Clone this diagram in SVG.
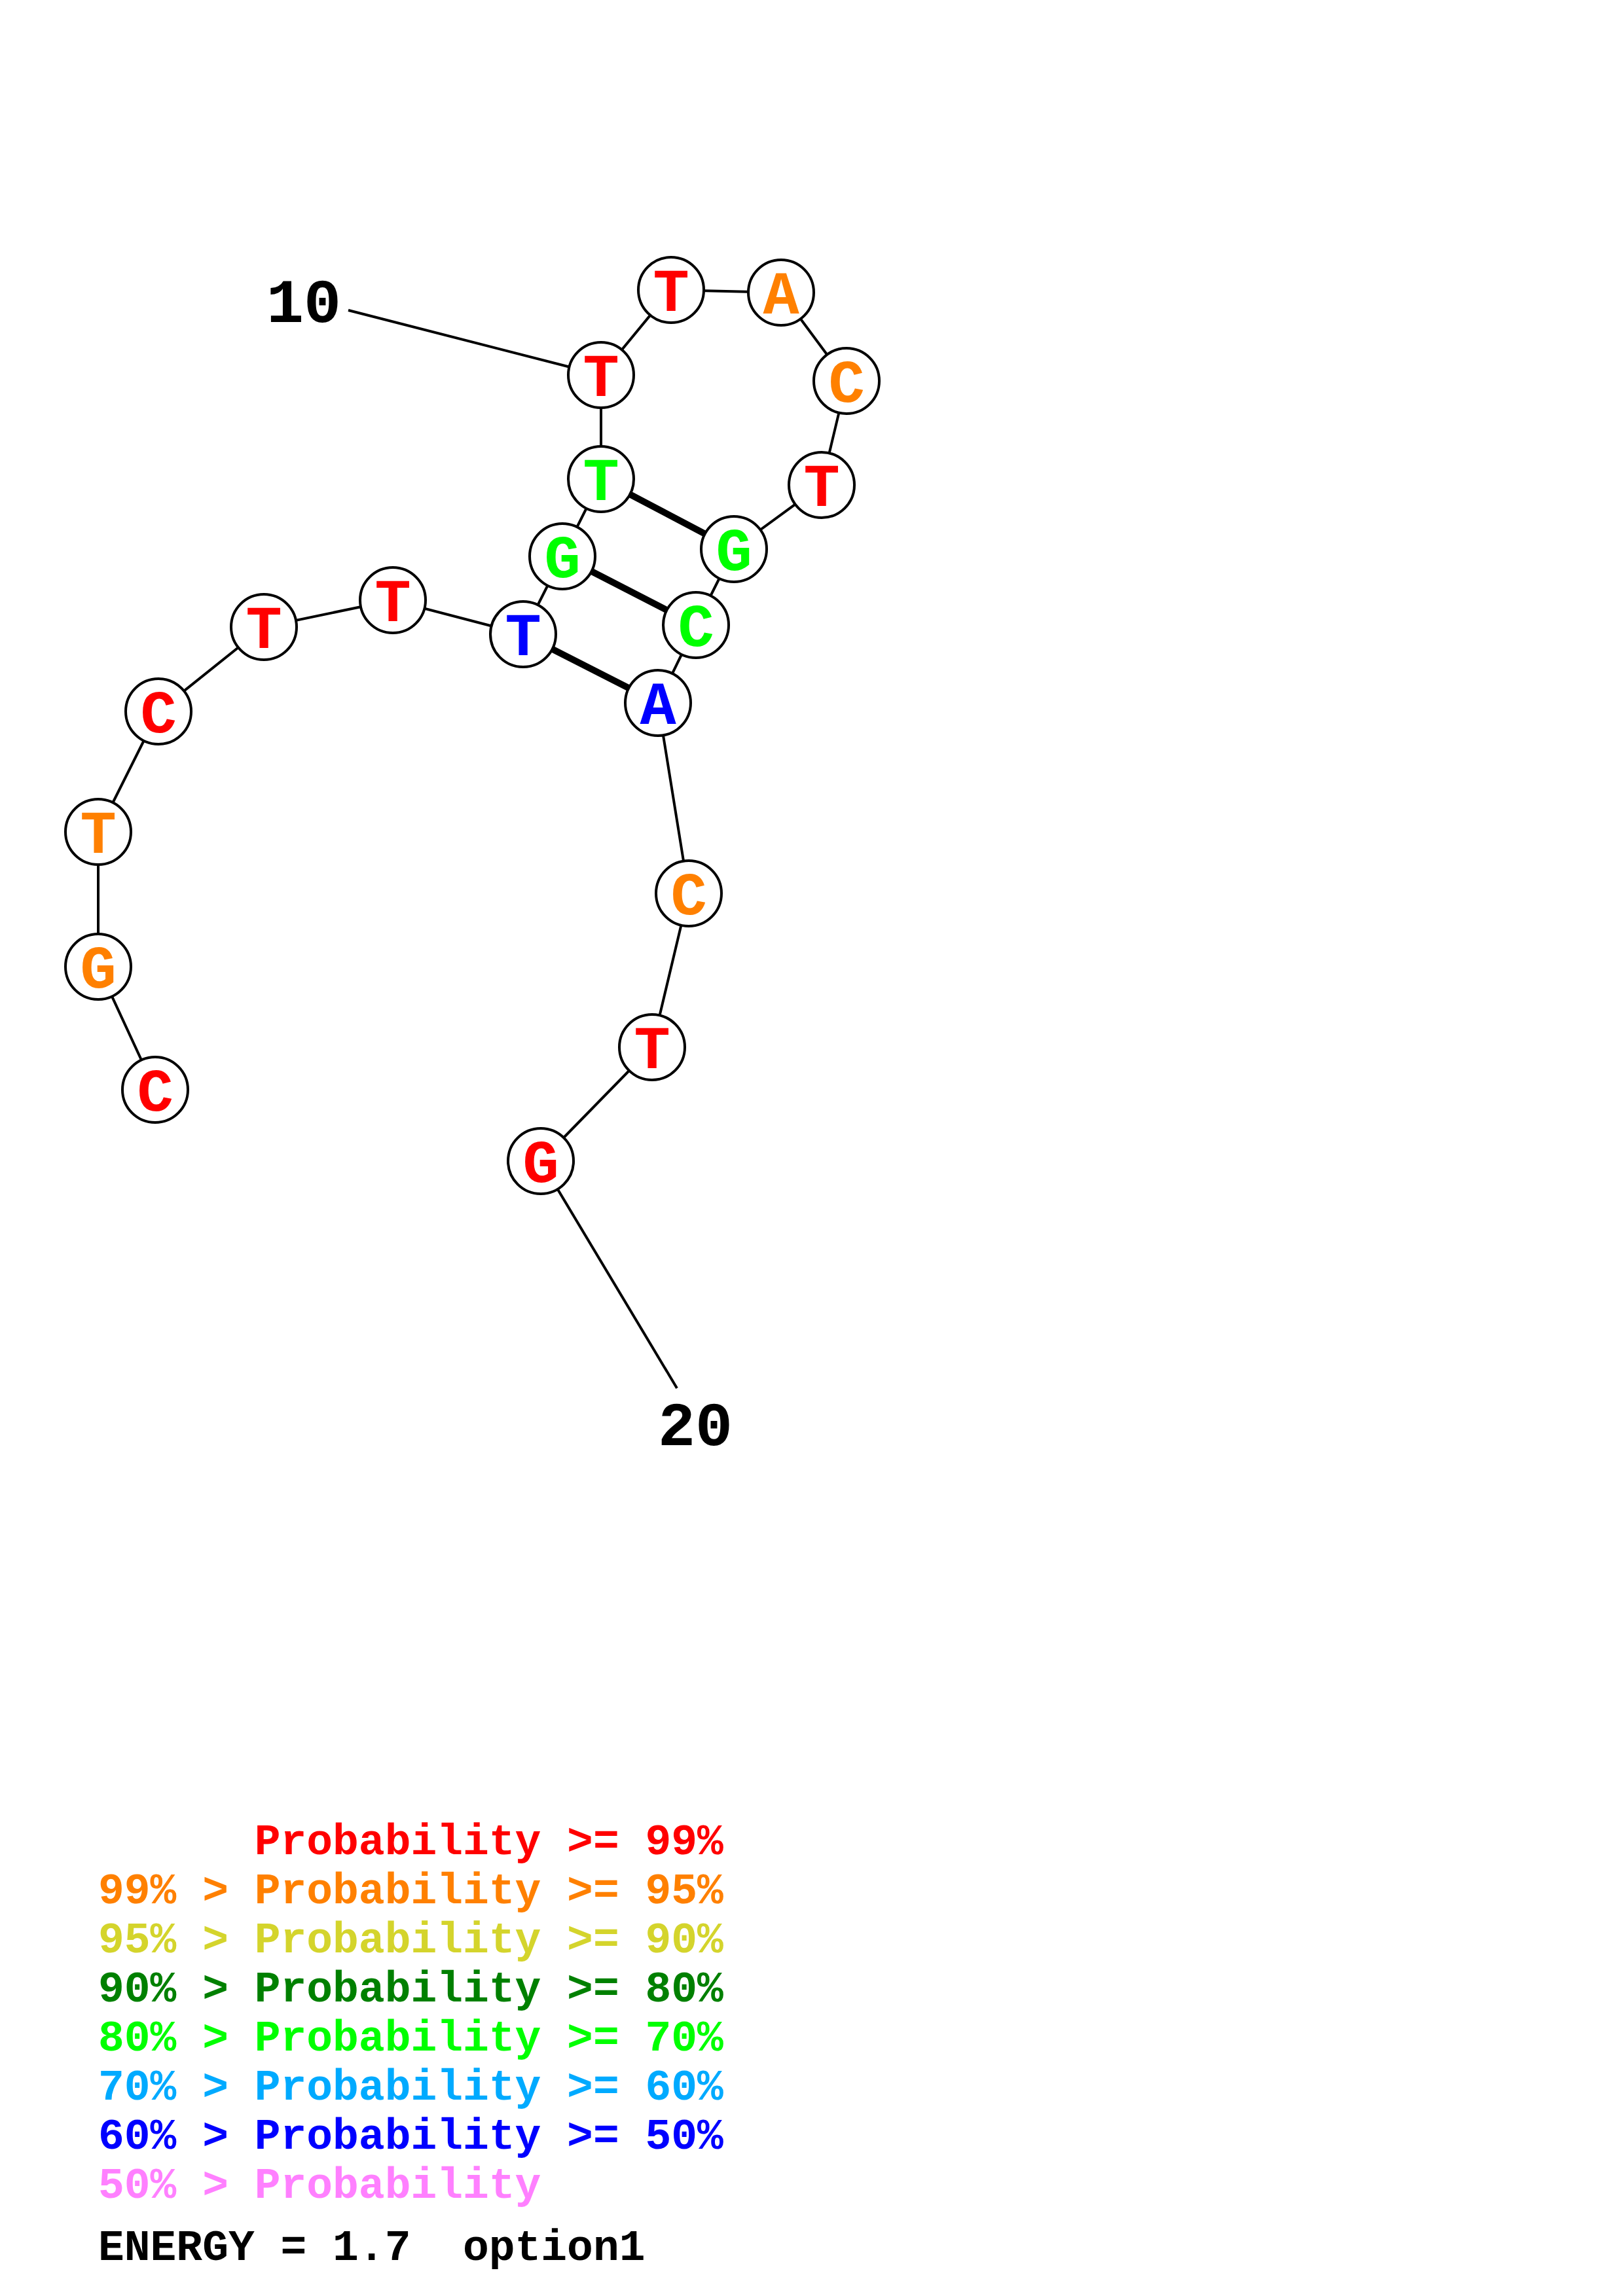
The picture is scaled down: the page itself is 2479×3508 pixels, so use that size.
<svg xmlns="http://www.w3.org/2000/svg" width="2479" height="3508" viewBox="0 0 2479 3508">
<style>
.bb{stroke:#000;stroke-width:4;fill:none}
.bp{stroke:#000;stroke-width:10;fill:none}
.nc{fill:#fff;stroke:#000;stroke-width:4}
.nt{font-family:"Liberation Mono","Courier New",monospace;font-weight:bold;font-size:92px;text-anchor:middle}
.lab{font-family:"Liberation Mono","Courier New",monospace;font-weight:bold;font-size:95px;fill:#000}
.lg{font-family:"Liberation Mono","Courier New",monospace;font-weight:bold;font-size:66.3px;white-space:pre}
.r{fill:#FF0000}.o{fill:#FF8000}.y{fill:#D4D42C}.dg{fill:#008000}.g{fill:#00FF00}.sb{fill:#00AAFF}.b{fill:#0000FF}.p{fill:#FF80FF}.k{fill:#000}
</style>
<rect width="2479" height="3508" fill="#fff"/>
<g id="connectors">
<polyline class="bb" points="237,1665 150,1477 150,1271 242,1087 403,958 600,917 799,969 859,850 918,732 918,573 1025,443 1193,447 1293,582 1255,741 1121,839 1063,955 1005,1074 1052,1365 996,1600 826,1774"/>
<line class="bb" x1="532" y1="474" x2="918" y2="573"/>
<line class="bb" x1="826" y1="1774" x2="1034" y2="2121"/>
<line class="bp" x1="918" y1="732" x2="1121" y2="839"/>
<line class="bp" x1="859" y1="850" x2="1063" y2="955"/>
<line class="bp" x1="799" y1="969" x2="1005" y2="1074"/>
</g>
<g id="n1"><circle class="nc" cx="237" cy="1665" r="50"/><text class="nt r" x="237" y="1697">C</text></g>
<g id="n2"><circle class="nc" cx="150" cy="1477" r="50"/><text class="nt o" x="150" y="1509">G</text></g>
<g id="n3"><circle class="nc" cx="150" cy="1271" r="50"/><text class="nt o" x="150" y="1303">T</text></g>
<g id="n4"><circle class="nc" cx="242" cy="1087" r="50"/><text class="nt r" x="242" y="1119">C</text></g>
<g id="n5"><circle class="nc" cx="403" cy="958" r="50"/><text class="nt r" x="403" y="990">T</text></g>
<g id="n6"><circle class="nc" cx="600" cy="917" r="50"/><text class="nt r" x="600" y="949">T</text></g>
<g id="n7"><circle class="nc" cx="799" cy="969" r="50"/><text class="nt b" x="799" y="1001">T</text></g>
<g id="n8"><circle class="nc" cx="859" cy="850" r="50"/><text class="nt g" x="859" y="882">G</text></g>
<g id="n9"><circle class="nc" cx="918" cy="732" r="50"/><text class="nt g" x="918" y="764">T</text></g>
<g id="n10"><circle class="nc" cx="918" cy="573" r="50"/><text class="nt r" x="918" y="605">T</text></g>
<g id="n11"><circle class="nc" cx="1025" cy="443" r="50"/><text class="nt r" x="1025" y="475">T</text></g>
<g id="n12"><circle class="nc" cx="1193" cy="447" r="50"/><text class="nt o" x="1193" y="479">A</text></g>
<g id="n13"><circle class="nc" cx="1293" cy="582" r="50"/><text class="nt o" x="1293" y="614">C</text></g>
<g id="n14"><circle class="nc" cx="1255" cy="741" r="50"/><text class="nt r" x="1255" y="773">T</text></g>
<g id="n15"><circle class="nc" cx="1121" cy="839" r="50"/><text class="nt g" x="1121" y="871">G</text></g>
<g id="n16"><circle class="nc" cx="1063" cy="955" r="50"/><text class="nt g" x="1063" y="987">C</text></g>
<g id="n17"><circle class="nc" cx="1005" cy="1074" r="50"/><text class="nt b" x="1005" y="1106">A</text></g>
<g id="n18"><circle class="nc" cx="1052" cy="1365" r="50"/><text class="nt o" x="1052" y="1397">C</text></g>
<g id="n19"><circle class="nc" cx="996" cy="1600" r="50"/><text class="nt r" x="996" y="1632">T</text></g>
<g id="n20"><circle class="nc" cx="826" cy="1774" r="50"/><text class="nt r" x="826" y="1806">G</text></g>
<g id="labels">
<text class="lab" x="407" y="492">10</text>
<text class="lab" x="1005" y="2208">20</text>
</g>
<g id="legend">
<text class="lg r" x="150" y="2833">      Probability &gt;= 99%</text>
<text class="lg o" x="150" y="2908">99% &gt; Probability &gt;= 95%</text>
<text class="lg y" x="150" y="2983">95% &gt; Probability &gt;= 90%</text>
<text class="lg dg" x="150" y="3058">90% &gt; Probability &gt;= 80%</text>
<text class="lg g" x="150" y="3133">80% &gt; Probability &gt;= 70%</text>
<text class="lg sb" x="150" y="3208">70% &gt; Probability &gt;= 60%</text>
<text class="lg b" x="150" y="3283">60% &gt; Probability &gt;= 50%</text>
<text class="lg p" x="150" y="3358">50% &gt; Probability</text>
<text class="lg k" x="150" y="3453">ENERGY = 1.7  option1</text>
</g>
</svg>
